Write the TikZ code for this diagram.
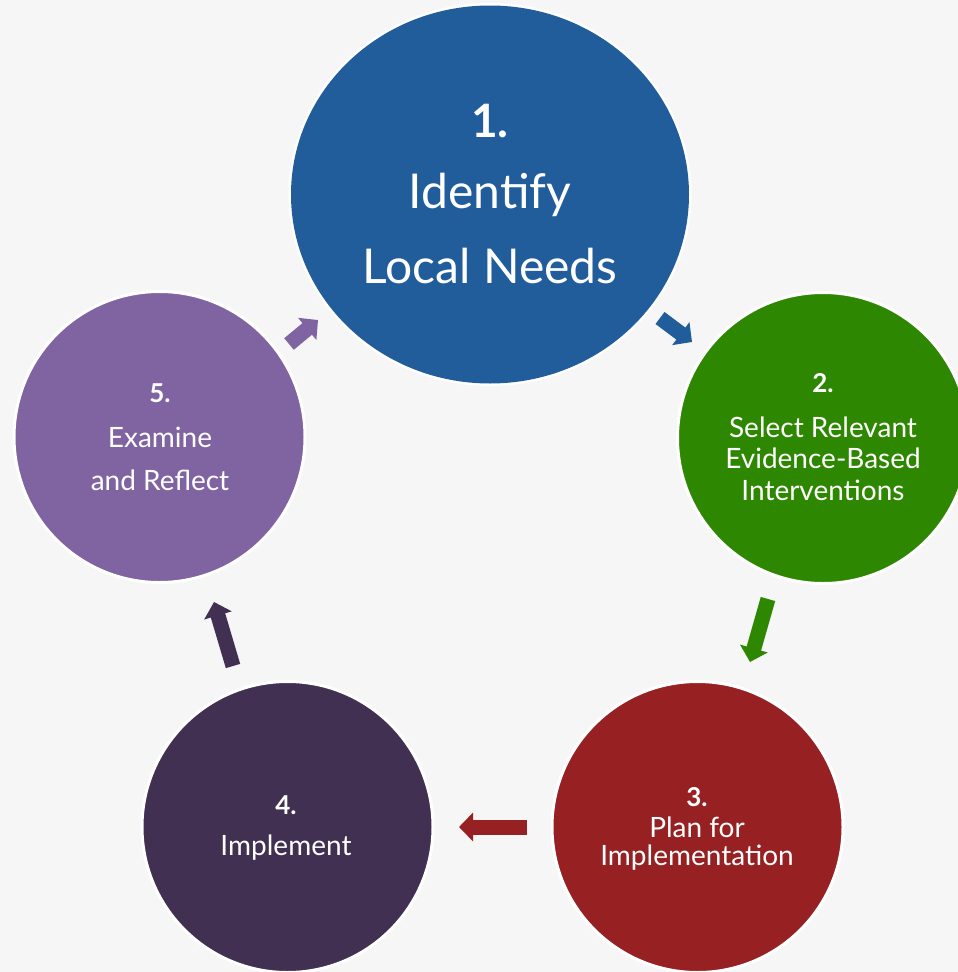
\documentclass[tikz,border=0pt]{standalone}
\usepackage{fontspec}
\setmainfont{Lato}
\usetikzlibrary{arrows.meta}
\definecolor{bg}{HTML}{F6F6F6}
\definecolor{cblue}{HTML}{215D9A}
\definecolor{cgreen}{HTML}{2E8700}
\definecolor{cred}{HTML}{962022}
\definecolor{cdark}{HTML}{413052}
\definecolor{cpurp}{HTML}{8064A2}
\tikzset{
  bigtxt/.style={text=white, font=\fontsize{48}{48}\selectfont, inner sep=0pt},
  smalltxt/.style={text=white, font=\fontsize{28}{28}\selectfont, inner sep=0pt},
  blockarrow/.style={line width=15pt, -{Triangle[length=14pt,width=28pt]}}
}
\begin{document}
\begin{tikzpicture}[x=1pt,y=-1pt]
\path[fill=bg] (0,0) rectangle (958,972);
\useasboundingbox (0,0) rectangle (958,972);
% circles
\begin{scope}
\clip (0,0) rectangle (958,972);
\fill[white] (490,194.5) ellipse [x radius=201.5, y radius=191.5];
\fill[cblue] (490,194.5) ellipse [x radius=199, y radius=189];
\node[circle, draw=white, line width=3pt, fill=cgreen, minimum size=291pt, inner sep=0pt] (c2) at (823,438) {};
\node[circle, draw=white, line width=3pt, fill=cred, minimum size=291pt, inner sep=0pt] (c3) at (697.5,827) {};
\node[circle, draw=white, line width=3pt, fill=cdark, minimum size=291pt, inner sep=0pt] (c4) at (287.5,827) {};
\node[circle, draw=white, line width=3pt, fill=cpurp, minimum size=291pt, inner sep=0pt] (c5) at (159.5,437) {};
\end{scope}
\coordinate (c1) at (490,194.5);
% texts
\node[bigtxt, font=\fontsize{46}{46}\bfseries\selectfont] (t1a) at (490,121) {1.};
\node[bigtxt] (t1b) at (490,195) {Identify};
\node[bigtxt] (t1c) at (490,266) {Local Needs};
\node[smalltxt, font=\fontsize{26}{26}\bfseries\selectfont] (t2a) at (823,383) {2.};
\node[smalltxt] (t2b) at (823,427) {Select Relevant};
\node[smalltxt] (t2c) at (823,458) {Evidence-Based};
\node[smalltxt] (t2d) at (823,490) {Interventions};
\node[smalltxt, font=\fontsize{26}{26}\bfseries\selectfont] (t3a) at (697,797) {3.};
\node[smalltxt] (t3b) at (697,827) {Plan for};
\node[smalltxt] (t3c) at (697,858) {Implementation};
\node[smalltxt, font=\fontsize{26}{26}\bfseries\selectfont] (t4a) at (286,805) {4.};
\node[smalltxt] (t4b) at (286,848) {Implement};
\node[smalltxt, font=\fontsize{26}{26}\bfseries\selectfont] (t5a) at (160,393) {5.};
\node[smalltxt] (t5b) at (160,437) {Examine};
\node[smalltxt] (t5c) at (160,480) {and Reflect};
% arrows
\coordinate (a12s) at (660,318);
\coordinate (a12e) at (692,342);
\coordinate (a23s) at (768,599);
\coordinate (a23e) at (750,662);
\coordinate (a34s) at (527,827);
\coordinate (a34e) at (459,827);
\coordinate (a45s) at (233,666);
\coordinate (a45e) at (214,602);
\coordinate (a51s) at (289,344);
\coordinate (a51e) at (318,320);
\draw[blockarrow, cblue] (a12s) -- (a12e);
\draw[blockarrow, cgreen] (a23s) -- (a23e);
\draw[blockarrow, cred] (a34s) -- (a34e);
\draw[blockarrow, cdark] (a45s) -- (a45e);
\draw[blockarrow, cpurp] (a51s) -- (a51e);
\end{tikzpicture}
\end{document}
